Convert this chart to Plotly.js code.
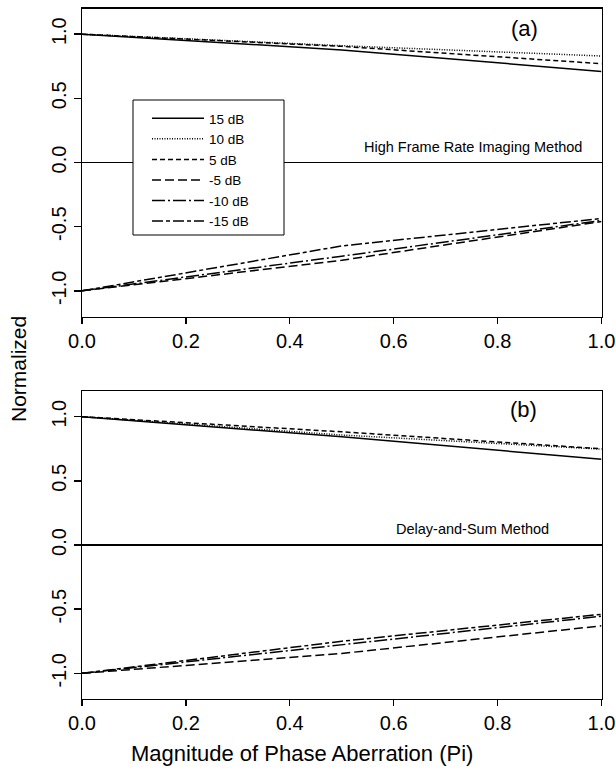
<!DOCTYPE html>
<html>
<head>
<meta charset="utf-8">
<script src="https://cdn.plot.ly/plotly-3.0.1.min.js"></script>
<style>html,body{margin:0;padding:0;background:#fff;}#chart{width:616px;height:770px;}</style>
</head>
<body>
<div id="chart"></div>
<script>
// Magnitude of phase aberration (Pi)
const xVals = [0.0, 0.5, 1.0];
const seriesNames = ['15 dB', '10 dB', '5 dB', '-5 dB', '-10 dB', '-15 dB'];

// (a) High Frame Rate Imaging Method
const a_15dB  = [1.0, 0.877, 0.710];
const a_10dB  = [1.0, 0.910, 0.830];
const a_5dB   = [1.0, 0.905, 0.770];
const a_m5dB  = [-1.0, -0.762, -0.460];
const a_m10dB = [-1.0, -0.730, -0.452];
const a_m15dB = [-1.0, -0.650, -0.436];

// (b) Delay-and-Sum Method
const b_15dB  = [1.0, 0.843, 0.668];
const b_10dB  = [1.0, 0.857, 0.747];
const b_5dB   = [1.0, 0.882, 0.750];
const b_m5dB  = [-1.0, -0.845, -0.630];
const b_m10dB = [-1.0, -0.780, -0.555];
const b_m15dB = [-1.0, -0.750, -0.540];

const xTickVals = [0, 0.2, 0.4, 0.6, 0.8, 1.0];
const xTickText = ['0.0', '0.2', '0.4', '0.6', '0.8', '1.0'];
const yTickVals = [-1, -0.5, 0, 0.5, 1];
const yTickText = ['-1.0', '-0.5', '0.0', '0.5', '1.0'];

const dashes = ['solid', '1px,1.5px', '5px,3px', '9px,4px', '13px,3px,2px,3px', '11px,3px,4px,3px'];

const aData = [a_15dB, a_10dB, a_5dB, a_m5dB, a_m10dB, a_m15dB];
const bData = [b_15dB, b_10dB, b_5dB, b_m5dB, b_m10dB, b_m15dB];

const traces = [];
aData.forEach((ys, i) => {
  traces.push({x: xVals, y: ys, type: 'scatter', mode: 'lines', name: seriesNames[i],
    xaxis: 'x', yaxis: 'y', showlegend: true,
    line: {color: 'black', width: 1.5, dash: dashes[i]}});
});
bData.forEach((ys, i) => {
  traces.push({x: xVals, y: ys, type: 'scatter', mode: 'lines', name: seriesNames[i],
    xaxis: 'x2', yaxis: 'y2', showlegend: false,
    line: {color: 'black', width: 1.5, dash: dashes[i]}});
});

const W = 616, H = 770;
const px = v => v / W;
const py = v => 1 - v / H;

function xAxis(anchor) {
  return {domain: [px(82), px(601.5)], range: [0, 1], anchor: anchor,
    tickvals: xTickVals, ticktext: xTickText, showline: true, mirror: true,
    linecolor: 'black', linewidth: 1.4, ticks: 'outside', ticklen: 6, tickwidth: 1.4,
    tickcolor: 'black', showgrid: false, zeroline: false,
    tickfont: {size: 20, color: 'black'}};
}
function yAxis(anchor, top, bottom) {
  return {domain: [py(bottom), py(top)], range: [-1.2, 1.2], anchor: anchor,
    tickvals: yTickVals, ticktext: yTickText, tickangle: -90, showline: true, mirror: true,
    linecolor: 'black', linewidth: 1.4, ticks: 'outside', ticklen: 7, tickwidth: 1.4,
    tickcolor: 'black', showgrid: false, zeroline: true, zerolinecolor: 'black', zerolinewidth: 1.4,
    tickfont: {size: 20, color: 'black'}};
}

const layout = {
  width: W, height: H,
  margin: {l: 0, r: 0, t: 0, b: 0},
  paper_bgcolor: 'white', plot_bgcolor: 'white',
  font: {family: 'Liberation Sans, Arial, sans-serif', color: 'black'},
  xaxis: xAxis('y'),
  yaxis: yAxis('x', 8.5, 316.5),
  xaxis2: xAxis('y2'),
  yaxis2: yAxis('x2', 391, 699),
  showlegend: true,
  legend: {x: px(147), y: py(103), xanchor: 'left', yanchor: 'top',
    bgcolor: 'rgba(0,0,0,0)', borderwidth: 0, font: {size: 13.5, color: 'black'},
    tracegroupgap: 0, itemwidth: 52},
  shapes: [
    {type: 'rect', xref: 'paper', yref: 'paper', x0: px(133), x1: px(284), y0: py(235), y1: py(100),
     line: {color: 'black', width: 1}, fillcolor: 'white', layer: 'above'}
  ],
  annotations: [
    {text: '(a)', xref: 'paper', yref: 'paper', x: px(524), y: py(28), xanchor: 'center', yanchor: 'middle',
     showarrow: false, font: {size: 22, color: 'black'}},
    {text: 'High Frame Rate Imaging Method', xref: 'paper', yref: 'paper', x: px(473), y: py(147),
     xanchor: 'center', yanchor: 'middle', showarrow: false, font: {size: 14.5, color: 'black'}},
    {text: '(b)', xref: 'paper', yref: 'paper', x: px(523), y: py(410), xanchor: 'center', yanchor: 'middle',
     showarrow: false, font: {size: 22, color: 'black'}},
    {text: 'Delay-and-Sum Method', xref: 'paper', yref: 'paper', x: px(472), y: py(529),
     xanchor: 'center', yanchor: 'middle', showarrow: false, font: {size: 14.5, color: 'black'}},
    {text: 'Normalized', xref: 'paper', yref: 'paper', x: px(18), y: py(369), textangle: -90,
     xanchor: 'center', yanchor: 'middle', showarrow: false, font: {size: 21, color: 'black'}},
    {text: 'Magnitude of Phase Aberration (Pi)', xref: 'paper', yref: 'paper', x: px(302), y: py(753),
     xanchor: 'center', yanchor: 'middle', showarrow: false, font: {size: 22, color: 'black'}}
  ]
};

Plotly.newPlot('chart', traces, layout, {displayModeBar: false, staticPlot: true});
</script>
</body>
</html>
